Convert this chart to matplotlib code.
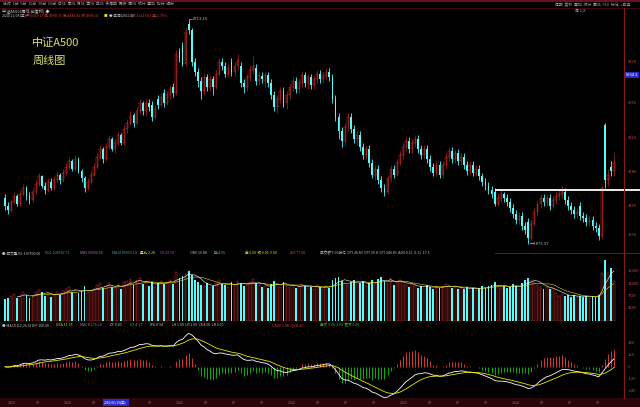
import numpy as np
import pandas as pd
import matplotlib
matplotlib.use('Agg')
import matplotlib.pyplot as plt
from matplotlib.lines import Line2D
from matplotlib.patches import Rectangle
from matplotlib.transforms import blended_transform_factory

plt.rcParams['font.family'] = ['Noto Sans CJK SC', 'DejaVu Sans']

# weekly candles
opens = [4450, 4350, 4300, 4400, 4475, 4375, 4500, 4575, 4475, 4425,
         4525, 4625, 4725, 4600, 4550, 4650, 4575, 4675, 4750, 4675,
         4775, 4850, 4925, 4825, 4950, 4800, 4700, 4575, 4650, 4750,
         4850, 4975, 5075, 4950, 5100, 5200, 5075, 5150, 5250, 5150,
         5325, 5400, 5500, 5400, 5550, 5650, 5550, 5650, 5625, 5475,
         5700, 5625, 5775, 5650, 5750, 5850, 5775, 6300, 6375, 6150,
         6650, 6575, 6175, 6050, 5925, 5800, 5975, 5850, 5950, 5850,
         6025, 6175, 6125, 6025, 6175, 6050, 6125, 6125, 5900, 5850,
         5975, 6075, 6100, 5925, 6000, 5925, 6000, 5900, 5750, 5600,
         5700, 5800, 5650, 5750, 5850, 5925, 5825, 5900, 6000, 5900,
         5975, 5875, 5950, 6025, 5950, 6000, 6050, 5975, 5700, 5475,
         5300, 5175, 5350, 5475, 5325, 5200, 5250, 5100, 5000, 5075,
         4900, 4750, 4825, 4675, 4575, 4525, 4700, 4825, 4750, 4900,
         5000, 5100, 5175, 5075, 5150, 5200, 5075, 5000, 5075, 4950,
         4850, 4775, 4875, 4750, 4875, 4975, 5050, 4950, 5025, 4925,
         4975, 4875, 4800, 4875, 4775, 4825, 4725, 4650, 4600, 4550,
         4525, 4375, 4450, 4500, 4450, 4400, 4325, 4250, 4175, 4225,
         4100, 4150, 3950, 4125, 4275, 4375, 4450, 4400, 4450, 4350,
         4425, 4475, 4500, 4525, 4425, 4350, 4300, 4250, 4350, 4225,
         4200, 4150, 4175, 4100, 4075, 3975, 5375, 4675, 4850, 4800]
closes = [4350, 4300, 4400, 4475, 4375, 4500, 4575, 4475, 4425, 4525,
          4625, 4725, 4600, 4550, 4650, 4575, 4675, 4750, 4675, 4775,
          4850, 4925, 4825, 4950, 4800, 4700, 4575, 4650, 4750, 4850,
          4975, 5075, 4950, 5100, 5200, 5075, 5150, 5250, 5150, 5325,
          5400, 5500, 5400, 5550, 5650, 5550, 5650, 5600, 5475, 5575,
          5625, 5725, 5650, 5750, 5825, 5775, 6275, 6225, 6150, 6550,
          6575, 6175, 6050, 5925, 5800, 5975, 5850, 5950, 5850, 6025,
          6175, 6125, 6025, 6100, 6050, 6125, 6200, 5900, 5850, 5975,
          6075, 6125, 5925, 6000, 5950, 6000, 5900, 5750, 5600, 5700,
          5800, 5650, 5750, 5850, 5925, 5825, 5900, 6000, 5900, 5975,
          5875, 5950, 6025, 5950, 6000, 6050, 5975, 5700, 5475, 5300,
          5175, 5350, 5475, 5325, 5200, 5250, 5100, 5000, 5075, 4900,
          4750, 4825, 4675, 4575, 4525, 4700, 4825, 4750, 4900, 5000,
          5100, 5175, 5075, 5150, 5200, 5075, 5000, 5075, 4950, 4850,
          4775, 4875, 4750, 4875, 4975, 5050, 4950, 5025, 4925, 4975,
          4875, 4800, 4875, 4775, 4825, 4725, 4650, 4600, 4550, 4500,
          4375, 4450, 4500, 4450, 4400, 4325, 4250, 4175, 4225, 4100,
          4050, 3950, 4125, 4275, 4375, 4450, 4400, 4450, 4350, 4425,
          4475, 4500, 4550, 4425, 4350, 4300, 4250, 4275, 4225, 4200,
          4150, 4175, 4100, 4075, 3975, 4575, 4675, 4750, 4800, 4900]
highs = [4500, 4400, 4425, 4525, 4500, 4550, 4625, 4600, 4525, 4575,
         4675, 4775, 4750, 4650, 4700, 4700, 4725, 4800, 4775, 4825,
         4900, 4975, 4950, 5000, 4975, 4825, 4725, 4700, 4800, 4900,
         5025, 5125, 5100, 5150, 5250, 5225, 5200, 5300, 5275, 5375,
         5450, 5550, 5525, 5600, 5700, 5675, 5700, 5700, 5675, 5625,
         5750, 5775, 5825, 5800, 5875, 5900, 6325, 6350, 6425, 6600,
         6713, 6600, 6225, 6100, 5975, 6025, 6025, 6000, 6000, 6075,
         6225, 6225, 6175, 6150, 6225, 6175, 6275, 6175, 5950, 6025,
         6125, 6250, 6150, 6050, 6050, 6050, 6050, 5950, 5800, 5750,
         5850, 5850, 5800, 5900, 5975, 5975, 5950, 6050, 6050, 6025,
         6025, 6000, 6075, 6075, 6050, 6100, 6100, 6025, 5750, 5525,
         5350, 5400, 5525, 5525, 5375, 5300, 5300, 5150, 5125, 5125,
         4950, 4875, 4875, 4725, 4625, 4750, 4875, 4875, 4950, 5050,
         5150, 5225, 5225, 5200, 5250, 5250, 5125, 5125, 5125, 5000,
         4900, 4925, 4925, 4925, 5025, 5100, 5100, 5075, 5075, 5025,
         5025, 4925, 4925, 4925, 4875, 4875, 4775, 4700, 4650, 4600,
         4575, 4500, 4550, 4525, 4500, 4450, 4375, 4300, 4275, 4275,
         4150, 4200, 4175, 4325, 4425, 4500, 4500, 4500, 4500, 4475,
         4525, 4550, 4600, 4575, 4475, 4400, 4350, 4325, 4400, 4275,
         4250, 4225, 4225, 4150, 4125, 4600, 5400, 4825, 4925, 5025]
lows = [4300, 4250, 4275, 4375, 4350, 4350, 4475, 4425, 4375, 4400,
        4500, 4600, 4575, 4500, 4525, 4550, 4550, 4650, 4625, 4650,
        4750, 4825, 4800, 4800, 4775, 4650, 4525, 4550, 4625, 4725,
        4825, 4950, 4900, 4925, 5075, 5050, 5025, 5125, 5125, 5125,
        5275, 5375, 5350, 5375, 5525, 5500, 5500, 5550, 5425, 5450,
        5575, 5600, 5600, 5625, 5700, 5725, 5750, 6175, 6125, 6125,
        6525, 6125, 6000, 5850, 5700, 5750, 5800, 5800, 5750, 5825,
        6000, 6075, 5975, 5975, 6000, 6000, 6075, 5850, 5775, 5800,
        5925, 6025, 5875, 5875, 5900, 5850, 5850, 5700, 5550, 5525,
        5650, 5600, 5575, 5700, 5800, 5775, 5775, 5850, 5850, 5825,
        5825, 5825, 5900, 5900, 5900, 5950, 5925, 5650, 5425, 5200,
        5100, 5125, 5300, 5275, 5150, 5125, 5050, 4950, 4950, 4850,
        4700, 4675, 4625, 4525, 4475, 4500, 4650, 4700, 4725, 4875,
        4950, 5050, 5025, 5025, 5100, 5025, 4950, 4950, 4900, 4800,
        4725, 4725, 4700, 4700, 4825, 4925, 4900, 4900, 4875, 4875,
        4825, 4750, 4750, 4725, 4725, 4675, 4600, 4550, 4500, 4450,
        4350, 4350, 4400, 4400, 4350, 4275, 4200, 4125, 4125, 4050,
        4000, 3873, 3925, 4100, 4225, 4325, 4350, 4350, 4300, 4325,
        4375, 4425, 4450, 4375, 4300, 4250, 4200, 4200, 4175, 4150,
        4100, 4100, 4050, 4025, 3925, 3950, 4575, 4600, 4725, 4725]
volumes = [6500, 7000, 7600, 8200, 6900, 7400, 8800, 7700, 6800, 7200,
           8600, 9400, 8800, 7600, 8100, 7300, 7900, 8700, 7800, 8900,
           9600, 10200, 8700, 9300, 8400, 9100, 10400, 8600, 8900, 9700,
           10800, 11300, 9800, 10600, 11500, 10200, 9800, 10900, 9600, 11800,
           12100, 12600, 10800, 12300, 12900, 11200, 11900, 10400, 11700, 10300,
           11500, 12000, 11200, 11800, 12400, 11000, 14800, 12900, 13600, 14200,
           15100, 13800, 12200, 11600, 10900, 10400, 11300, 10100, 10600, 11400,
           12300, 11100, 10700, 10200, 11600, 10800, 12000, 11500, 10400, 10900,
           11800, 12600, 11300, 10700, 10100, 10500, 9900, 11200, 12100, 11000,
           10300, 11600, 10800, 10200, 10700, 9800, 10400, 11200, 10600, 9900,
           10300, 9700, 10800, 10200, 9600, 10400, 9900, 12200, 12800, 13300,
           12100, 11500, 10900, 11700, 12300, 10800, 11400, 12000, 10600, 11300,
           12400, 11000, 12600, 13100, 12000, 11400, 12900, 10800, 11700, 12200,
           11600, 10900, 10300, 11100, 10400, 9800, 10500, 9900, 10700, 10200,
           9600, 10400, 9900, 10600, 11200, 10500, 9800, 10300, 9700, 10100,
           9500, 10200, 9300, 9900, 9400, 10000, 10600, 9800, 10400, 10900,
           11800, 10600, 9900, 10400, 9800, 10300, 11100, 10500, 9700, 11400,
           12200, 13000, 12400, 11600, 10800, 10300, 9700, 10100, 9500, 9900,
           8300, 7600, 8200, 7400, 7800, 7300, 7700, 7100, 7600, 7200,
           7500, 7000, 7400, 7100, 7800, 14400, 18300, 14400, 15900, 12000]

price_ticks = [6170, 5650, 5210, 4780, 4350, 3990]
vol_ticks = [15000, 11000, 7500, 4000]
support_level = 4550
peak_text = '6713.15'
low_text = '3873.37'
date_labels = ['2019', '10', '2020', '04', '', '10', '2021', '04', '07', '10',
               '2022', '04', '07', '10', '2023', '04', '07', '10', '2024', '04', '07', '10']

CYAN = '#54fcfc'
RED = '#d83030'
GREEN = '#00d000'
W, H = 640, 407

o = np.array(opens, float)
c = np.array(closes, float)
h = np.array(highs, float)
l = np.array(lows, float)
v = np.array(volumes, float)
x = np.arange(len(c))
up = c >= o

fig = plt.figure(figsize=(6.4, 4.07), dpi=100, facecolor='black')


def fx(px):
    return px / W


def fy(py):
    return 1 - py / H


def pane(top, bottom):
    a = fig.add_axes([0, fy(bottom), 624 / W, (bottom - top) / H])
    a.set_facecolor('black')
    for s in a.spines.values():
        s.set_visible(False)
    a.set_xticks([])
    a.set_yticks([])
    a.set_xlim(-5 / 3.06, 619 / 3.06)
    return a


ax = pane(18, 248)
vax = pane(257, 321)
max_ = pane(330, 398)

# price pane
ax.set_ylim(3822, 6726)
ax.vlines(x[up], l[up], h[up], color=RED, lw=0.4)
ax.vlines(x[~up], l[~up], h[~up], color=CYAN, lw=0.6)
ax.bar(x[~up], (o - c)[~up], bottom=c[~up], width=0.6, color=CYAN, lw=0)
ax.bar(x[up], np.maximum((c - o)[up], 8), bottom=o[up], width=0.6,
       facecolor='black', edgecolor=RED, lw=0.35)
ax.plot([160.5, 207.5], [support_level, support_level], color='white', lw=1.3, clip_on=False)

ipk = int(np.argmax(h))
ax.plot([ipk, ipk + 1.2], [h[ipk], h[ipk]], color='#c0c0c0', lw=0.4)
ax.text(ipk + 1.4, h[ipk], peak_text, color='#c0c0c0', fontsize=3, va='center')
ilo = int(np.argmin(l))
ax.text(ilo + 0.5, l[ilo], '←' + low_text, color='#c0c0c0', fontsize=3, va='center')

ax.text(0.052, 0.89, '中证A500', transform=ax.transAxes, color='#e0e060', fontsize=8, va='center')
ax.text(0.052, 0.815, '周线图', transform=ax.transAxes, color='#e0e060', fontsize=8, va='center')

tr = blended_transform_factory(ax.transAxes, ax.transData)
for p in price_ticks:
    ax.text(1.006, p, str(p), transform=tr, color='#c04848', fontsize=3, va='center', clip_on=False)
ax.text(1.003, 6006, '5964.2', transform=tr, color='white', fontsize=3, va='center',
        bbox=dict(boxstyle='square,pad=0.25', fc='#2a2ad0', ec='none'), clip_on=False)

# volume pane
vax.set_ylim(0, 19200)
vax.bar(x[~up], v[~up], width=0.6, color=CYAN, lw=0)
vax.bar(x[up], v[up], width=0.6, facecolor='black', edgecolor=RED, lw=0.35)
vs = pd.Series(v)
vax.plot(x, vs.rolling(5).mean(), color='white', lw=0.4)
vax.plot(x, vs.rolling(10).mean(), color='#e0e000', lw=0.4)
vtr = blended_transform_factory(vax.transAxes, vax.transData)
for t in vol_ticks:
    vax.text(1.006, t, str(t), transform=vtr, color='#c04848', fontsize=3, va='center', clip_on=False)

# MACD pane
cs = pd.Series(c)
dif = cs.ewm(span=12, adjust=False).mean() - cs.ewm(span=26, adjust=False).mean()
dea = dif.ewm(span=9, adjust=False).mean()
hist = 2 * (dif - dea)
lim = max(dif.abs().max(), hist.abs().max()) * 1.1
max_.set_ylim(-lim * 0.85, lim)
pos = hist.values >= 0
max_.vlines(x[pos], 0, hist.values[pos], color='#ff3c3c', lw=0.6)
max_.vlines(x[~pos], 0, hist.values[~pos], color=GREEN, lw=0.6)
max_.plot(x, dif, color='white', lw=0.6)
max_.plot(x, dea, color='#e8e800', lw=0.6)
mtr = blended_transform_factory(max_.transAxes, max_.transData)
step = round(lim / 3, -1)
for k in [2, 1, 0, -1, -2]:
    max_.text(1.006, k * step, '%d' % (k * step), transform=mtr, color='#c04848',
              fontsize=3, va='center', clip_on=False)

# frame, separators, headers
fig.add_artist(Rectangle((0, fy(2)), 1, 2 / H, transform=fig.transFigure, color='#6b1020', lw=0))
fig.add_artist(Line2D([0, 1], [fy(7.5), fy(7.5)], color='#4a0c14', lw=0.6))
fig.add_artist(Line2D([fx(624), fx(624)], [fy(8), fy(398)], color='#8b1a1a', lw=0.7))
fig.add_artist(Line2D([fx(495), 1], [fy(253), fy(253)], color='#8b1a1a', lw=0.6))
fig.add_artist(Rectangle((0, 0), 1, 9 / H, transform=fig.transFigure, color='#2a0609', lw=0))
fig.add_artist(Rectangle((fx(103), fy(406)), 26 / W, 7 / H, transform=fig.transFigure, color='#2a2ad0', lw=0))
fig.text(fx(104), fy(402.5), '2020/06/19(五)', color='white', fontsize=2.4, va='center')

fig.text(fx(3), fy(4.5), '分时  1分  5分  15分  30分  60分  日线  周线  月线  季线  年线  多周期  更多  画线  统计  叠加  指标  模板',
         color='#a0a0a0', fontsize=2.8, va='center')
fig.text(fx(555), fy(4.5), '周期  复权  叠加  统计  画线  F10  标记  +自选',
         color='#a0a0a0', fontsize=2.8, va='center')
fig.text(fx(2), fy(10.5), '中证A500(周线,前复权) ◆', color='#c8c8c8', fontsize=3, va='center')
fig.text(fx(2), fy(15.5), '2024/11/08(五)', color='#c8c8c8', fontsize=2.6, va='center')
fig.text(fx(26), fy(15.5), '开:4923.17 高:4998.31 低:4849.82 收:4946.31',
         color='#e04040', fontsize=2.6, va='center')
fig.text(fx(104), fy(15.5), '■', color='#e0e000', fontsize=2.6, va='center')
fig.text(fx(109), fy(15.5), '◆ 区间(20114)', color='#c8c8c8', fontsize=2.6, va='center')
fig.text(fx(132), fy(15.5), '涨:161164.1 换:1.75%', color='#e04040', fontsize=2.6, va='center')
fig.text(fx(575), fy(11), '周 1/8', color='#a0a0a0', fontsize=2.8, va='center')

vol_head = [('● 成交量 VS  107590.00', '#c8c8c8', 2), ('VOL 103620.71', '#40a8a8', 45),
            ('MA5 95030.60', '#c070c0', 80), ('MA10 85093.14', '#40a0a0', 112),
            ('量比 2.28', '#e0e000', 140), ('VR 44.68', '#a040a0', 160),
            ('OBV 16.88', '#c0c0c0', 190), ('换 4.05', '#40c0c0', 214),
            ('金 0.00  银 0.00  3.00', '#e0e000', 245), ('ASI 77.08', '#e04040', 290),
            ('成交额 3.92万亿  DTI 28.83  DTI 39.8  DTI 240.83  ADX 0.11  0.11  17.5', '#c8c8c8', 320)]
for txt, col, px in vol_head:
    fig.text(fx(px), fy(253), txt, color=col, fontsize=2.6, va='center')
macd_head = [('● MACD(12,26,9) DIF 100.00', '#c8c8c8', 2), ('DEA 11.95', '#e0e000', 56),
             ('MACD 176.10', '#c070c0', 80), ('ZF 0.00', '#c8c8c8', 110),
             ('DF 4.17', '#40c040', 130), ('RSI 0.94', '#c8c8c8', 150),
             ('LR 1.00  LR 1.00  LR 4.00  LR 0.00', '#c8c8c8', 172),
             ('UDZF 1.08  QS 8.23', '#e04040', 272), ('金叉 1.00  2.00  死叉 0.00', '#40c040', 320)]
for txt, col, px in macd_head:
    fig.text(fx(px), fy(325), txt, color=col, fontsize=2.6, va='center')

for k, lab in enumerate(date_labels):
    if lab:
        fig.text(fx(8 + k * 28), fy(402.5), lab, color='#c06060', fontsize=2.6, va='center')

fig.savefig('out.png', dpi=100, facecolor='black')
